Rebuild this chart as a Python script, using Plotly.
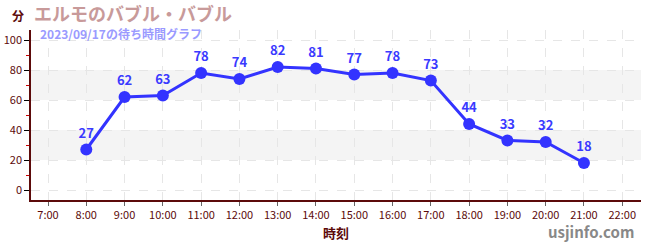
import plotly.graph_objects as go

hours = [8, 9, 10, 11, 12, 13, 14, 15, 16, 17, 18, 19, 20, 21]
waits = [27, 62, 63, 78, 74, 82, 81, 77, 78, 73, 44, 33, 32, 18]
tick_vals = list(range(7, 23))
tick_text = [f"{h}:00" for h in tick_vals]
y_ticks = [0, 20, 40, 60, 80, 100]
bands = [(20, 40), (60, 80)]

title = "エルモのバブル・バブル"
subtitle = "2023/09/17の待ち時間グラフ"
font = "Noto Sans CJK JP"
dark = "#5c0a0a"

L, R, T, B = 31, 9, 30, 50
W, H = 650, 250
pw = W - L - R
ph = H - T - B

def px(x):
    return (x - L) / pw

def py(y):
    return (H - B - y) / ph

fig = go.Figure()
for lo, hi in bands:
    fig.add_hrect(y0=lo, y1=hi, fillcolor="#f4f4f4", line_width=0, layer="below")

fig.add_trace(go.Scatter(
    x=hours, y=waits, mode="lines+markers+text",
    text=[str(v) for v in waits], textposition="top center",
    textfont=dict(family=font, size=13, color="#3a3aff", weight="bold"),
    line=dict(color="#3333ff", width=3),
    marker=dict(size=12, color="#3333ff"),
    cliponaxis=False, hoverinfo="skip",
))

fig.update_layout(
    width=W, height=H,
    margin=dict(l=L, r=R, t=T, b=B, autoexpand=False),
    paper_bgcolor="white", plot_bgcolor="white",
    showlegend=False,
    font=dict(family=font, color=dark),
    xaxis=dict(
        range=[6.556, 22.49], tickvals=tick_vals, ticktext=tick_text,
        automargin=False,
        showgrid=True, gridcolor="#e6e6e6", griddash="dash", gridwidth=1,
        showline=True, linecolor=dark, linewidth=1.5,
        ticks="outside", ticklen=4, tickcolor="#666",
        tickfont=dict(family=font, size=11, color=dark),
        zeroline=False,
        title=dict(text="時刻", font=dict(family=font, size=13, color=dark, weight="bold"), standoff=8),
    ),
    yaxis=dict(
        range=[-6.67, 106.67], tickvals=y_ticks,
        automargin=False,
        showgrid=True, gridcolor="#e6e6e6", griddash="dash", gridwidth=1,
        showline=True, linecolor=dark, linewidth=1.5,
        ticks="outside", ticklen=5, tickcolor="#000",
        tickfont=dict(family=font, size=11, color=dark),
        zeroline=False,
        minor=dict(tickvals=[10, 30, 50, 70, 90], ticks="outside", ticklen=3, tickcolor="#cc0000", showgrid=False),
    ),
)

fig.add_annotation(text=title, x=px(33), y=py(-1), xref="paper", yref="paper",
                   xanchor="left", yanchor="top", showarrow=False, borderpad=0,
                   font=dict(family=font, size=18, color="#c89a9a", weight="bold"))
fig.add_annotation(text=subtitle, x=px(39), y=py(24), xref="paper", yref="paper",
                   xanchor="left", yanchor="top", showarrow=False, borderpad=0,
                   font=dict(family=font, size=12, color="#9a9aff", weight="bold"))
fig.add_annotation(text="分", x=px(26), y=py(15), xref="paper", yref="paper",
                   xanchor="right", yanchor="middle", showarrow=False,
                   font=dict(family=font, size=12, color=dark, weight="bold"))
fig.add_annotation(text="usjinfo.com", x=px(636), y=py(244), xref="paper", yref="paper",
                   xanchor="right", yanchor="bottom", showarrow=False,
                   font=dict(family=font, size=15, color="#888888", weight="bold"))

fig.write_html("out.html")
